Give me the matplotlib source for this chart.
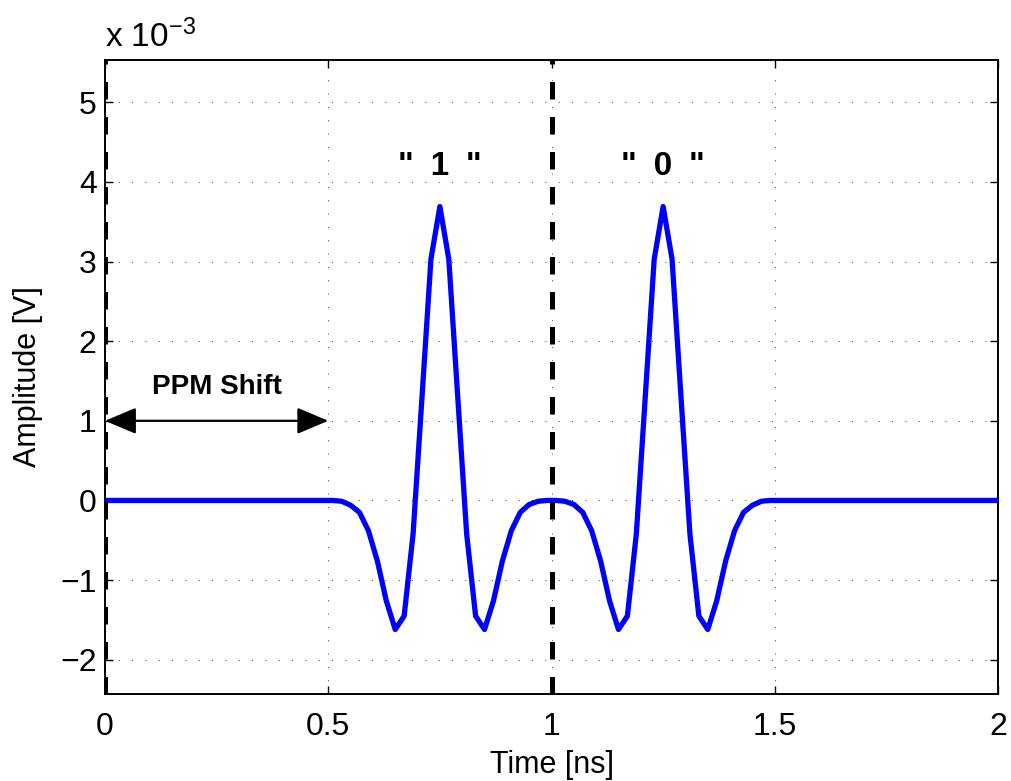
import matplotlib
matplotlib.use("Agg")
import matplotlib.pyplot as plt
import numpy as np

plt.rcParams['font.family'] = ['Liberation Sans', 'DejaVu Sans']
plt.rcParams['mathtext.fontset'] = 'custom'
plt.rcParams['mathtext.rm'] = 'Liberation Sans'
plt.rcParams['mathtext.it'] = 'Liberation Sans'
plt.rcParams['mathtext.bf'] = 'Liberation Sans:bold'

# ---- data (time in ns, amplitude in units of 1e-3 V) ----
time_ns = [0.0, 0.49, 0.51, 0.53, 0.55, 0.57, 0.59, 0.61, 0.63, 0.65, 0.67, 0.69,
           0.71, 0.73, 0.75, 0.77, 0.79, 0.81, 0.83, 0.85, 0.87, 0.89, 0.91, 0.93,
           0.95, 0.97, 0.99, 1.01, 1.03, 1.05, 1.07, 1.09, 1.11, 1.13, 1.15, 1.17,
           1.19, 1.21, 1.23, 1.25, 1.27, 1.29, 1.31, 1.33, 1.35, 1.37, 1.39, 1.41,
           1.43, 1.45, 1.47, 1.49, 1.51, 2.0]
amplitude_e3 = [0.0, 0.0, 0.0, -0.01, -0.06, -0.15, -0.38, -0.76, -1.26, -1.62, -1.45, -0.42,
                1.30, 3.03, 3.69, 3.03, 1.30, -0.42, -1.45, -1.62, -1.26, -0.76, -0.38, -0.15,
                -0.05, -0.01, 0.0, 0.0, -0.01, -0.05, -0.15, -0.38, -0.76, -1.26, -1.62, -1.45,
                -0.42, 1.30, 3.03, 3.69, 3.03, 1.30, -0.42, -1.45, -1.62, -1.26, -0.76, -0.38,
                -0.15, -0.06, -0.01, 0.0, 0.0, 0.0]

symbol_boundaries = [0.0, 1.0]
bit_labels = ['"\u20021\u2002"', '"\u20020\u2002"']
bit_label_x = [0.75, 1.25]
bit_label_y = 4.08
ppm_shift = [0.0, 0.5]
ppm_arrow_y = 1.0
ppm_label = 'PPM Shift'

xticks = [0, 0.5, 1, 1.5, 2]
xtick_labels = ['0', '0.5', '1', '1.5', '2']
yticks = [-2, -1, 0, 1, 2, 3, 4, 5]
xlim = (0, 2)
ylim = (-2.43, 5.53)

fig = plt.figure(figsize=(10.11, 7.81), dpi=100)
ax = fig.add_axes([105/1011, 1-694/781, (998-105)/1011, (694-60)/781])

ax.plot(time_ns, amplitude_e3, color='#0000ff', lw=3.8, solid_joinstyle='round', zorder=3)

for xb in symbol_boundaries:
    ax.axvline(xb, color='black', lw=3.6, dashes=(3.5, 3.5), zorder=4)

for lbl, xl in zip(bit_labels, bit_label_x):
    ax.text(xl, bit_label_y, lbl, ha='center', va='baseline', fontsize=24, fontweight='bold')

ax.annotate('', xy=(ppm_shift[0], ppm_arrow_y), xytext=(ppm_shift[1], ppm_arrow_y),
            arrowprops=dict(arrowstyle='<|-|>,head_length=0.97,head_width=0.41', color='black',
                            lw=1.6, shrinkA=0, shrinkB=0, mutation_scale=20), zorder=5)
ax.text(np.mean(ppm_shift), 1.34, ppm_label, ha='center', va='baseline', fontsize=20, fontweight='bold')

ax.set_xlim(*xlim)
ax.set_ylim(*ylim)
ax.set_xticks(xticks)
ax.set_xticklabels(xtick_labels)
ax.set_yticks(yticks)
ax.grid(True, color='black', lw=0.6, linestyle=(0, (1, 15)))
ax.tick_params(direction='in', length=6, width=1, top=True, right=True, labelsize=23)
ax.tick_params(axis='x', pad=13)
ax.tick_params(axis='y', pad=6)
for s in ax.spines.values():
    s.set_linewidth(1.4)

ax.set_xlabel('Time [ns]', fontsize=22, labelpad=6)
ax.set_ylabel('Amplitude [V]', fontsize=22, labelpad=12)

ax.text(0.0, 1.021, r'x 10$^{\mathregular{-3}}$', transform=ax.transAxes, ha='left', va='baseline', fontsize=24)

fig.savefig('out.png', dpi=100)
